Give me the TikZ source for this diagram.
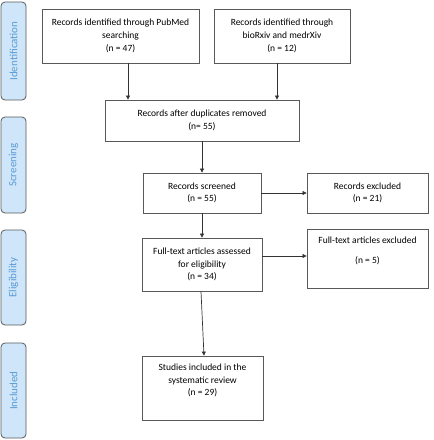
\documentclass[tikz,border=0pt]{standalone}
\usepackage{fontspec}
\setmainfont{Carlito}
\usetikzlibrary{arrows.meta}
\definecolor{stagefill}{HTML}{CFE6FA}
\definecolor{stagetext}{HTML}{5B9BD5}
\definecolor{boxline}{HTML}{595959}
\tikzset{
  recbox/.style={draw=boxline, line width=0.8pt, align=center, inner sep=2pt,
    font=\fontsize{9.5}{12.7}\selectfont},
  stage/.style={draw=boxline, line width=0.8pt, fill=stagefill, rounded corners=4pt,
    rotate=90, text=stagetext, minimum height=25pt, font=\fontsize{11}{12}\selectfont},
  flow/.style={draw=black!80, line width=0.7pt, -{Triangle[length=4pt,width=4pt]}}
}
\begin{document}
\begin{tikzpicture}[x=1pt,y=-1pt]
  \useasboundingbox (0,0) rectangle (434,440);
  % stages on the left
  \node[stage, minimum width=98pt] (ident) at (13.5,51) {Identification};
  \node[stage, minimum width=96pt] (screen) at (13.5,165) {Screening};
  \node[stage, minimum width=95pt] (elig) at (13.5,277.5) {Eligibility};
  \node[stage, minimum width=95pt] (incl) at (13.5,390.5) {Included};
  % records
  \node[recbox, minimum width=157pt, minimum height=54pt] (pubmed) at (120.5,36)
    {Records identified through PubMed\\searching\\(n = 47)};
  \node[recbox, minimum width=136pt, minimum height=54pt] (biorxiv) at (282,36)
    {Records identified through\\bioRxiv and medrXiv\\(n = 12)};
  \node[recbox, minimum width=194pt, minimum height=41pt] (dups) at (202,120.5)
    {Records after duplicates removed\\(n= 55)};
  \node[recbox, minimum width=118pt, minimum height=40pt] (screened) at (202,193)
    {Records screened\\(n = 55)};
  \node[recbox, minimum width=121pt, minimum height=40pt] (excl) at (367.5,193)
    {Records excluded\\(n = 21)};
  \node[recbox, minimum width=120pt, minimum height=53pt] (fulltext) at (202,264.5)
    {Full-text articles assessed\\for eligibility\\(n = 34)};
  \node[recbox, minimum width=121pt, minimum height=59pt] (ftexcl) at (367.5,258.5)
    {Full-text articles excluded\\[8pt](n = 5)\\ \strut};
  \node[recbox, minimum width=121pt, minimum height=64pt] (studies) at (202.5,388)
    {Studies included in the\\systematic review\\(n = 29)\\ \strut};
  % arrows
  \draw[flow] ([xshift=7.5pt]pubmed.south) -- ([xshift=7.5pt]pubmed.south |- dups.north);
  \draw[flow] ([xshift=-5pt]biorxiv.south) -- ([xshift=-5pt]biorxiv.south |- dups.north);
  \draw[flow] (dups) -- (screened);
  \draw[flow] (screened) -- (excl);
  \draw[flow] (screened) -- (fulltext);
  \draw[flow] ([yshift=8.5pt]fulltext.east) -- ([yshift=8.5pt]fulltext.east -| ftexcl.west);
  \draw[flow] ([xshift=-1pt]fulltext.south) -- ([xshift=1.5pt]studies.north);
\end{tikzpicture}
\end{document}
